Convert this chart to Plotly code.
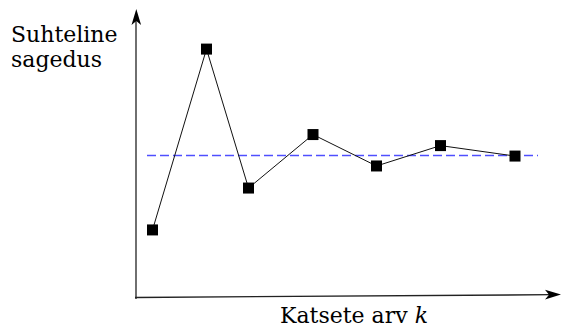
import plotly.graph_objects as go

# ---- data ----
trials = [1.65, 7.05, 11.25, 17.7, 24.05, 30.45, 37.9]          # number of trials k (arbitrary units)
rel_freq = [0.237, 0.876, 0.385, 0.574, 0.463, 0.535, 0.498]     # relative frequency
prob_x = [1.1, 40.2]
prob_y = [0.5, 0.5]                                              # theoretical probability
y_label_lines = ["Suhteline", "sagedus"]
x_label = "Katsete arv <i>k</i>"

W, H = 562, 328
X0, XS = 136, 10.0     # pixel of x=0, pixels per x unit
Y0, YS = 297, 283.0    # pixel of y=0, pixels per y unit

def px(x):
    return x / W

def py(y):
    return 1 - y / H

fig = go.Figure()
fig.add_trace(go.Scatter(x=prob_x, y=prob_y, mode="lines",
                         line=dict(color="#4f4fff", width=1.6, dash="9px,4px"),
                         hoverinfo="skip", showlegend=False))
fig.add_trace(go.Scatter(x=trials, y=rel_freq, mode="lines+markers",
                         line=dict(color="#111", width=1),
                         marker=dict(symbol="square", size=11, color="black", line=dict(width=0)),
                         showlegend=False))

shapes = []
# y axis line
shapes.append(dict(type="line", xref="paper", yref="paper",
                   x0=px(136), y0=py(299), x1=px(136), y1=py(16),
                   line=dict(color="#222", width=1.3)))
# x axis line (slightly slanted as in the original)
shapes.append(dict(type="line", xref="paper", yref="paper",
                   x0=px(135), y0=py(297.5), x1=px(552), y1=py(294.7),
                   line=dict(color="#222", width=1.3)))

def path(points):
    return "M" + " L".join(f"{px(a):.5f},{py(b):.5f}" for a, b in points) + " Z"

# arrowheads
shapes.append(dict(type="path", xref="paper", yref="paper",
                   path=path([(136.3, 9), (131.5, 25), (136.3, 21), (141.1, 25)]),
                   fillcolor="black", line=dict(width=0)))
shapes.append(dict(type="path", xref="paper", yref="paper",
                   path=path([(561, 294.6), (545, 289.8), (549, 294.7), (545, 299.4)]),
                   fillcolor="black", line=dict(width=0)))

annotations = []
font = dict(family="DejaVu Serif", size=22, color="black")
annotations.append(dict(text=y_label_lines[0], xref="paper", yref="paper",
                        x=px(9), y=py(35), xanchor="left", yanchor="middle",
                        showarrow=False, font=font))
annotations.append(dict(text=y_label_lines[1], xref="paper", yref="paper",
                        x=px(9), y=py(59), xanchor="left", yanchor="middle",
                        showarrow=False, font=font))
annotations.append(dict(text=x_label, xref="paper", yref="paper",
                        x=px(354), y=py(315), xanchor="center", yanchor="middle",
                        showarrow=False, font=font))

fig.update_layout(
    width=W, height=H,
    margin=dict(l=0, r=0, t=0, b=0),
    paper_bgcolor="white", plot_bgcolor="white",
    xaxis=dict(range=[-X0 / XS, (W - X0) / XS], visible=False, fixedrange=True),
    yaxis=dict(range=[(Y0 - H) / YS, Y0 / YS], visible=False, fixedrange=True),
    shapes=shapes, annotations=annotations,
)

fig.write_html("out.html", config={"displayModeBar": False},
               post_script="document.body.style.margin='0';document.body.style.overflow='hidden';")
